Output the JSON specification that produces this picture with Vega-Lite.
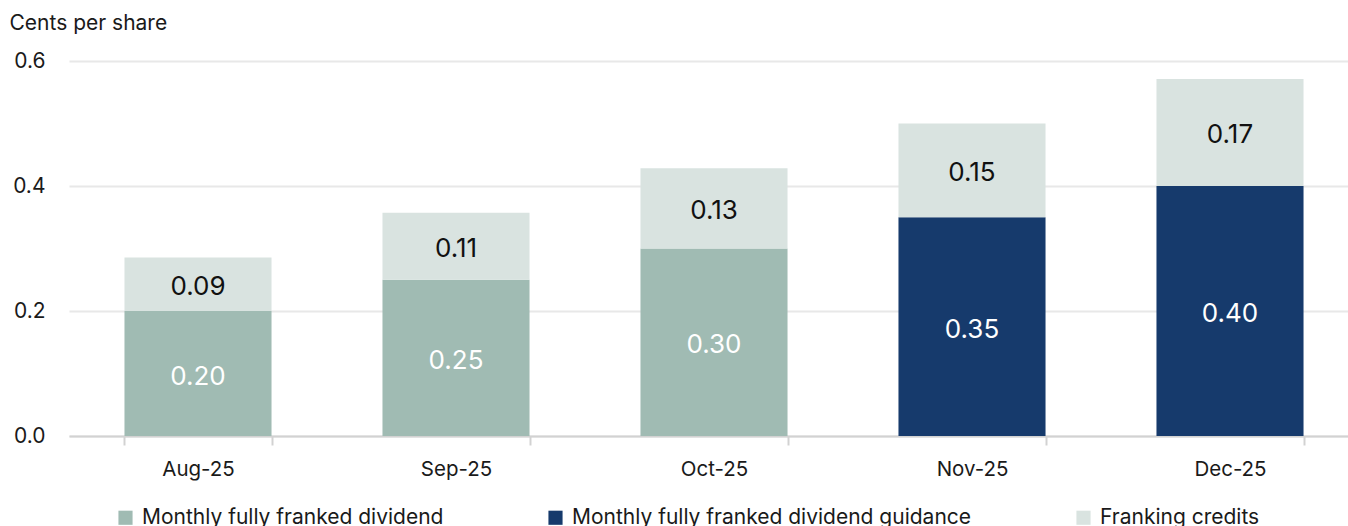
{
  "$schema": "https://vega.github.io/schema/vega-lite/v6.json",
  "width": 1290,
  "height": 375,
  "autosize": {"type": "none"},
  "padding": {"left": 69, "top": 61, "right": 0, "bottom": 90},
  "background": "white",
  "config": {
    "font": "Inter",
    "view": {"stroke": null},
    "axis": {"labelFont": "Inter", "titleFont": "Inter", "labelColor": "#1a1a1a", "titleColor": "#1a1a1a"}
  },
  "data": {
    "values": [
      {"month": "Aug-25", "type": "Monthly fully franked dividend", "value": 0.20},
      {"month": "Aug-25", "type": "Franking credits", "value": 0.0857},
      {"month": "Sep-25", "type": "Monthly fully franked dividend", "value": 0.25},
      {"month": "Sep-25", "type": "Franking credits", "value": 0.1071},
      {"month": "Oct-25", "type": "Monthly fully franked dividend", "value": 0.30},
      {"month": "Oct-25", "type": "Franking credits", "value": 0.1286},
      {"month": "Nov-25", "type": "Monthly fully franked dividend guidance", "value": 0.35},
      {"month": "Nov-25", "type": "Franking credits", "value": 0.15},
      {"month": "Dec-25", "type": "Monthly fully franked dividend guidance", "value": 0.40},
      {"month": "Dec-25", "type": "Franking credits", "value": 0.1714}
    ]
  },
  "transform": [
    {"stack": "value", "groupby": ["month"], "sort": [{"field": "type", "order": "descending"}], "as": ["v0", "v1"]},
    {"calculate": "(datum.v0 + datum.v1) / 2", "as": "mid"}
  ],
  "encoding": {
    "x": {
      "field": "month", "type": "nominal", "sort": null,
      "scale": {"paddingInner": 0.43, "paddingOuter": 0.215},
      "axis": {
        "title": null, "labelAngle": 0, "labelFontSize": 20.5, "labelPadding": 14,
        "domainColor": "#d2d2d2", "domainWidth": 2, "tickColor": "#d2d2d2", "tickWidth": 2,
        "tickSize": 9, "tickBand": "extent", "grid": false
      }
    }
  },
  "layer": [
    {
      "mark": {"type": "bar"},
      "encoding": {
        "y": {
          "field": "v0", "type": "quantitative",
          "scale": {"domain": [0, 0.6], "nice": false},
          "axis": {
            "title": "Cents per share", "titleAngle": 0, "titleAlign": "left", "titleBaseline": "alphabetic",
            "titleX": -60, "titleY": -32, "titleFontSize": 21, "titleFontWeight": "normal",
            "values": [0, 0.2, 0.4, 0.6], "format": ".1f", "labelFontSize": 21, "labelPadding": 24,
            "domain": false, "ticks": false, "grid": true, "gridColor": "#e8e8e8", "gridWidth": 2
          }
        },
        "y2": {"field": "v1"},
        "color": {
          "field": "type", "type": "nominal",
          "scale": {
            "domain": ["Monthly fully franked dividend", "Monthly fully franked dividend guidance", "Franking credits"],
            "range": ["#a0bbb3", "#163a6c", "#d9e3e0"]
          },
          "legend": {
            "title": null, "orient": "none", "direction": "horizontal", "legendX": 46, "legendY": 446,
            "symbolType": "square", "symbolSize": 200, "symbolStrokeWidth": 0, "labelFontSize": 21,
            "labelColor": "#1a1a1a", "labelOffset": 6, "columnPadding": 101, "padding": 0,
            "labelFont": "Inter", "labelLimit": 0
          }
        }
      }
    },
    {
      "mark": {"type": "text", "fontSize": 26, "baseline": "middle", "align": "center", "dy": 3},
      "encoding": {
        "y": {"field": "mid", "type": "quantitative"},
        "text": {"field": "value", "type": "quantitative", "format": ".2f"},
        "color": {"condition": {"test": "datum.type === 'Franking credits'", "value": "#111111"}, "value": "#ffffff"}
      }
    }
  ]
}
